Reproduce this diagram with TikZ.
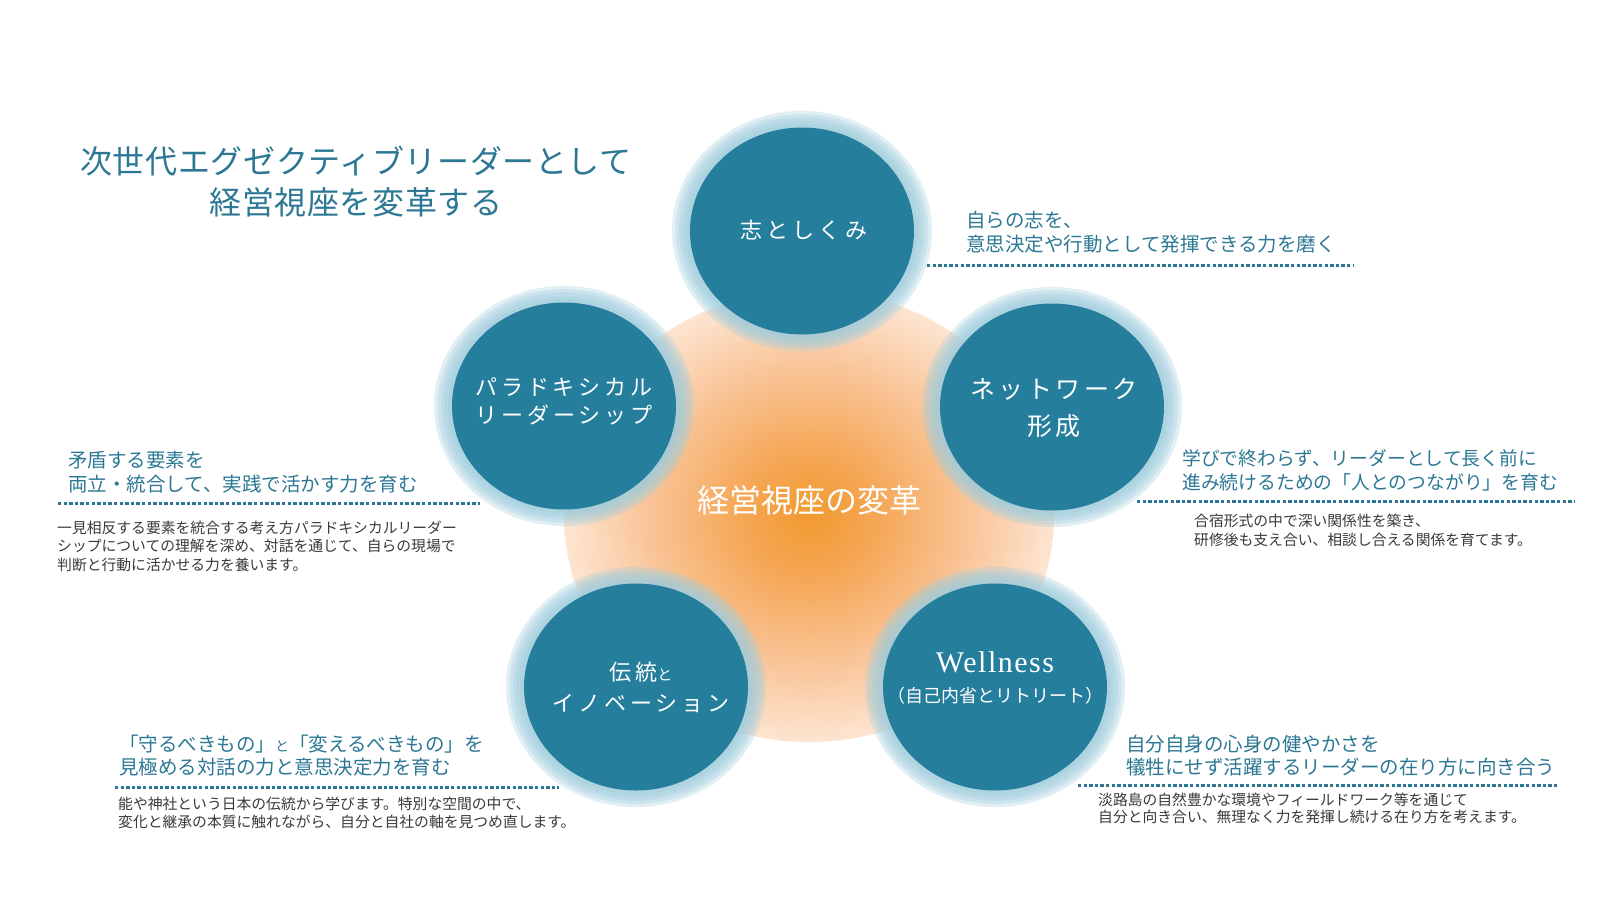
\documentclass[tikz,border=0pt]{standalone}
\usepackage{fontspec}
\setmainfont{Noto Sans CJK JP}
\newfontfamily\jpfont{Noto Sans CJK JP}
\newfontfamily\jpspaced[LetterSpace=18]{Noto Sans CJK JP}
\newfontfamily\jpwide[LetterSpace=14]{Noto Sans CJK JP}
\newfontfamily\jptitle[LetterSpace=2]{Noto Sans CJK JP}
\newfontfamily\serifen[LetterSpace=5]{Liberation Serif}
\definecolor{tealtext}{HTML}{2C7894}
\definecolor{bodytext}{HTML}{3A3A3A}
\definecolor{discblue}{HTML}{267E9D}
\definecolor{ringblue}{HTML}{9ECCDD}
\definecolor{ogA}{HTML}{F29A30}
\definecolor{ogB}{HTML}{F5A756}
\definecolor{ogC}{HTML}{F9C395}
\definecolor{ogD}{HTML}{FDE5D1}
\pgfdeclareradialshading{orangeglow}{\pgfpointorigin}{color(0bp)=(ogA); color(7bp)=(ogB); color(16bp)=(ogC); color(25bp)=(ogD); color(50bp)=(ogD)}
\tikzset{
  ringfill/.style={fill=ringblue, fill opacity=0.3},
  discfill/.style={fill=discblue},
  disctext/.style={text=white, align=center, inner sep=0pt},
  headtext/.style={text=tealtext, align=left, inner sep=0pt, anchor=west, font=\jpfont\fontsize{19.5}{24}\selectfont},
  bodystyle/.style={text=bodytext, align=left, inner sep=0pt, anchor=west, font=\jpfont\fontsize{14.8}{18.5}\selectfont},
  dotline/.style={draw=tealtext, line width=3pt, dash pattern=on 3.3pt off 2.3pt},
}
\begin{document}
\begin{tikzpicture}[x=1pt,y=-1pt]
\useasboundingbox (0,0) rectangle (1600,900);
\fill[white] (0,0) rectangle (1600,900);
% centres
\coordinate (cA) at (802,231);
\coordinate (cB) at (1052,407);
\coordinate (cC) at (995,687);
\coordinate (cD) at (636,687);
\coordinate (cE) at (564,406);
\coordinate (cO) at (809,516);
% orange glow
\path[shading=orangeglow] (cO) ellipse [x radius=245, y radius=226];
% rings (stacked translucent layers give a soft outer edge) and discs
\foreach \c in {cA,cB,cC,cD,cE}{
  \foreach \k in {0,...,4}{
    \path[ringfill] (\c) ellipse [x radius={130-3.5*\k}, y radius={(130-3.5*\k)*0.924}];
  }
  \path[discfill] (\c) ellipse [x radius=112, y radius=103.5];
}
% title
\node[text=tealtext, align=center, inner sep=0pt, font=\jptitle\fontsize{32}{41}\selectfont] (title) at (356,181.5) {次世代エグゼクティブリーダーとして\\経営視座を変革する};
% centre text
\node[disctext, font=\jpfont\fontsize{32}{36}\selectfont] (core) at (809,500) {経営視座の変革};
% disc texts
\node[disctext, font=\jpspaced\fontsize{22}{28}\selectfont] (tA) at (804,230) {志としくみ};
\node[disctext, font=\jpwide\fontsize{25}{37}\selectfont] (tB) at (1054,408) {ネットワーク\\形成};
\node[disctext, font=\jpfont\fontsize{20}{30}\selectfont] (tC) at (995,678) {{\serifen\fontsize{30}{30}\selectfont Wellness}\\{\jpfont\fontsize{18}{22}\selectfont （自己内省とリトリート）}};
\node[disctext, font=\jpspaced\fontsize{22}{31}\selectfont] (tD) at (641,687) {伝統{\fontsize{15}{15}\selectfont と}\\イノベーション};
\node[disctext, font=\jpspaced\fontsize{22}{28}\selectfont] (tE) at (564,401) {パラドキシカル\\リーダーシップ};
% annotations
\node[headtext] (hA) at (966,232.5) {自らの志を、\\意思決定や行動として発揮できる力を磨く};
\coordinate (dAs) at (927,265); \coordinate (dAe) at (1353,265);
\draw[dotline] (dAs) -- (dAe);

\node[headtext, font=\jpfont\fontsize{18.8}{24}\selectfont] (hB) at (1182,470.5) {学びで終わらず、リーダーとして長く前に\\進み続けるための「人とのつながり」を育む};
\coordinate (dBs) at (1137,501); \coordinate (dBe) at (1575,501);
\draw[dotline] (dBs) -- (dBe);
\node[bodystyle, font=\jpfont\fontsize{14.8}{19}\selectfont] (bB) at (1194,530) {合宿形式の中で深い関係性を築き、\\研修後も支え合い、相談し合える関係を育てます。};

\node[headtext] (hE) at (68,472) {矛盾する要素を\\両立・統合して、実践で活かす力を育む};
\coordinate (dEs) at (58,503); \coordinate (dEe) at (480,503);
\draw[dotline] (dEs) -- (dEe);
\node[bodystyle] (bE) at (57,546) {一見相反する要素を統合する考え方パラドキシカルリーダー\\シップについての理解を深め、対話を通じて、自らの現場で\\判断と行動に活かせる力を養います。};

\node[headtext, font=\jpfont\fontsize{19.5}{23}\selectfont] (hD) at (119,755.5) {「守るべきもの」{\fontsize{14}{14}\selectfont と}「変えるべきもの」を\\見極める対話の力と意思決定力を育む};
\coordinate (dDs) at (115,787); \coordinate (dDe) at (559,787);
\draw[dotline] (dDs) -- (dDe);
\node[bodystyle, font=\jpfont\fontsize{14.8}{18.5}\selectfont] (bD) at (118,813) {能や神社という日本の伝統から学びます。特別な空間の中で、\\変化と継承の本質に触れながら、自分と自社の軸を見つめ直します。};

\node[headtext, font=\jpfont\fontsize{19.5}{23}\selectfont] (hC) at (1126,756) {自分自身の心身の健やかさを\\犠牲にせず活躍するリーダーの在り方に向き合う};
\coordinate (dCs) at (1078,785); \coordinate (dCe) at (1558,785);
\draw[dotline] (dCs) -- (dCe);
\node[bodystyle, font=\jpfont\fontsize{14.8}{17.5}\selectfont] (bC) at (1098,808.5) {淡路島の自然豊かな環境やフィールドワーク等を通じて\\自分と向き合い、無理なく力を発揮し続ける在り方を考えます。};
\end{tikzpicture}
\end{document}
